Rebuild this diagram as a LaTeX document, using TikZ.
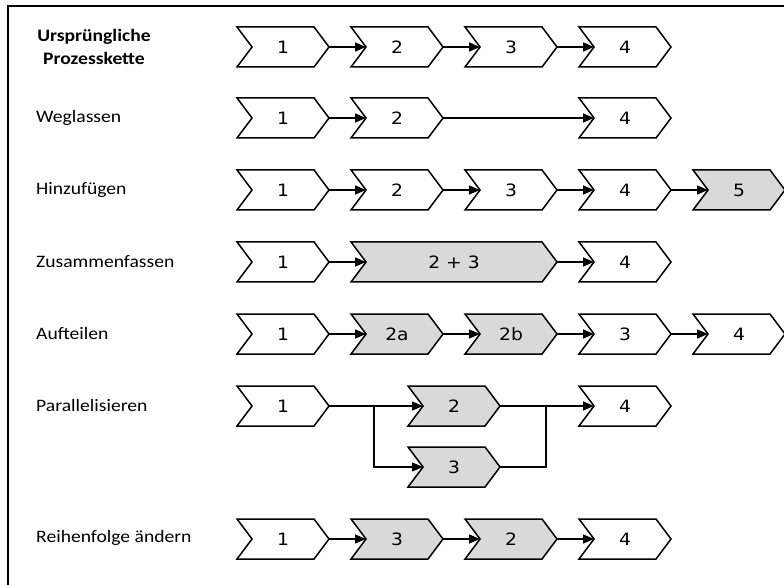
\documentclass[tikz,border=0pt]{standalone}
\usepackage{fontspec}
\setmainfont{Carlito}
\newfontfamily\numfont[FakeStretch=1.1]{DejaVu Sans}
\newfontfamily\labfont[FakeStretch=1.12]{Carlito}
\usetikzlibrary{arrows.meta}
\definecolor{chevgray}{RGB}{217,217,217}
\tikzset{
  chevline/.style={draw=black, line width=1.5pt, line join=miter},
  chevtext/.style={font=\numfont\fontsize{17}{20}\selectfont, inner sep=0pt},
  lab/.style={font=\labfont\fontsize{17.5}{21}\selectfont, anchor=west, inner sep=0pt},
  arr/.style={line width=1.3pt, -{Triangle[length=11pt,width=9pt]}},
  conn/.style={line width=1.3pt},
}
\newcommand\chev[6]{%
  \draw[chevline, fill=#5] (#2,#3-20) -- (#2+#4-15,#3-20) -- (#2+#4,#3) -- (#2+#4-15,#3+20) -- (#2,#3+20) -- (#2+15,#3) -- cycle;
  \node[chevtext] (#1) at (#2+#4/2,#3) {#6};
  \coordinate (#1-in) at (#2+15,#3);
  \coordinate (#1-out) at (#2+#4,#3);
}
\begin{document}
\begin{tikzpicture}[x=1pt,y=-1pt]
\useasboundingbox (0,0) rectangle (784,585);
\fill[white] (0,0) rectangle (784,585);
\draw[line width=2pt] (784,6) -- (7.5,6) -- (7.5,585);

% labels
\node[font=\labfont\fontsize{17.5}{23}\selectfont\bfseries, align=center, inner sep=0pt] (l1) at (94,47) {Ursprüngliche\\Prozesskette};
\node[lab] (l2) at (36,118) {Weglassen};
\node[lab] (l3) at (36,190) {Hinzufügen};
\node[lab] (l4) at (36,262) {Zusammenfassen};
\node[lab] (l5) at (36,333) {Aufteilen};
\node[lab] (l6) at (36,405) {Parallelisieren};
\node[lab] (l7) at (36,538) {Reihenfolge ändern};

% row 1
\chev{a1}{237}{47}{92}{white}{1}
\chev{a2}{351}{47}{92}{white}{2}
\chev{a3}{465}{47}{92}{white}{3}
\chev{a4}{579}{47}{92}{white}{4}
\draw[arr] (a1-out) -- (a2-in);
\draw[arr] (a2-out) -- (a3-in);
\draw[arr] (a3-out) -- (a4-in);

% row 2
\chev{b1}{237}{118}{92}{white}{1}
\chev{b2}{351}{118}{92}{white}{2}
\chev{b4}{579}{118}{92}{white}{4}
\draw[arr] (b1-out) -- (b2-in);
\draw[arr] (b2-out) -- (b4-in);

% row 3
\chev{c1}{237}{190}{92}{white}{1}
\chev{c2}{351}{190}{92}{white}{2}
\chev{c3}{465}{190}{92}{white}{3}
\chev{c4}{579}{190}{92}{white}{4}
\chev{c5}{693}{190}{92}{chevgray}{5}
\draw[arr] (c1-out) -- (c2-in);
\draw[arr] (c2-out) -- (c3-in);
\draw[arr] (c3-out) -- (c4-in);
\draw[arr] (c4-out) -- (c5-in);

% row 4
\chev{d1}{237}{262}{92}{white}{1}
\chev{d2}{351}{262}{206}{chevgray}{2 + 3}
\chev{d4}{579}{262}{92}{white}{4}
\draw[arr] (d1-out) -- (d2-in);
\draw[arr] (d2-out) -- (d4-in);

% row 5
\chev{e1}{237}{334}{92}{white}{1}
\chev{e2}{351}{334}{92}{chevgray}{2a}
\chev{e3}{465}{334}{92}{chevgray}{2b}
\chev{e4}{579}{334}{92}{white}{3}
\chev{e5}{693}{334}{92}{white}{4}
\draw[arr] (e1-out) -- (e2-in);
\draw[arr] (e2-out) -- (e3-in);
\draw[arr] (e3-out) -- (e4-in);
\draw[arr] (e4-out) -- (e5-in);

% row 6
\chev{f1}{237}{406}{92}{white}{1}
\chev{f2}{408}{406}{92}{chevgray}{2}
\chev{f3}{408}{467}{92}{chevgray}{3}
\chev{f4}{579}{406}{92}{white}{4}
\coordinate (split) at (374,406);
\coordinate (merge) at (546,406);
\draw[arr] (f1-out) -- (f2-in);
\draw[arr] (split) |- (f3-in);
\draw[arr] (f2-out) -- (f4-in);
\draw[conn] (f3-out) -| (merge);

% row 7
\chev{g1}{237}{539}{92}{white}{1}
\chev{g2}{351}{539}{92}{chevgray}{3}
\chev{g3}{465}{539}{92}{chevgray}{2}
\chev{g4}{579}{539}{92}{white}{4}
\draw[arr] (g1-out) -- (g2-in);
\draw[arr] (g2-out) -- (g3-in);
\draw[arr] (g3-out) -- (g4-in);
\end{tikzpicture}
\end{document}
